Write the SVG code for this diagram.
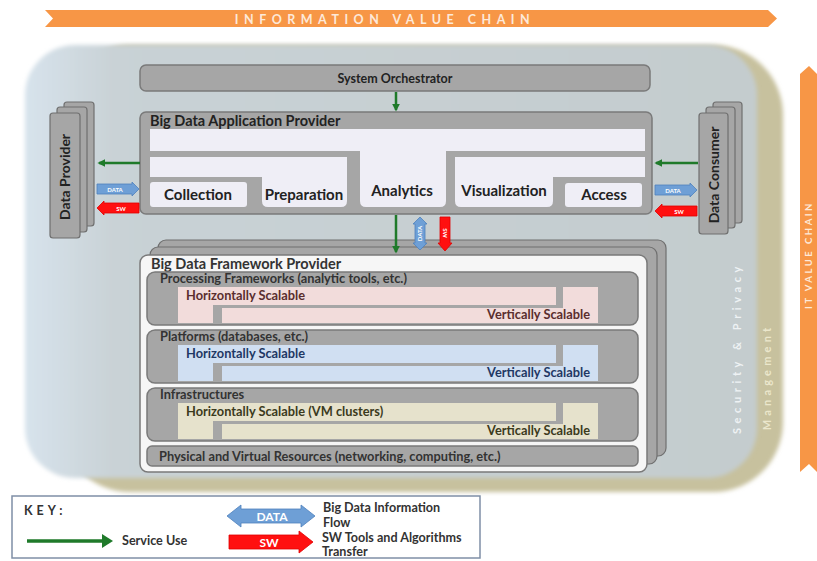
<svg xmlns="http://www.w3.org/2000/svg" width="817" height="561" viewBox="0 0 817 561">
<defs>
<style>
text{font-family:Lato,"Open Sans","Liberation Sans",sans-serif;}
.b{font-weight:bold;fill:#222;}
.gbox{fill:#a6a6a6;stroke:#7a7a7a;stroke-width:1.5;}
.lav{fill:#efeef6;}
.stk{fill:#a6a6a6;stroke:#6f6f6f;stroke-width:1.2;}
.g{stroke:#1f7a2a;stroke-width:2.5;fill:none;}
.data{fill:#6e9fd6;stroke:#4f81bd;stroke-width:0.8;}
.sw{fill:#ff1010;stroke:#e00000;stroke-width:0.8;}
.at{fill:#fff;font-weight:bold;font-size:6px;}
.small{font-size:12.8px;font-weight:bold;}
.app{font-size:15px;}
.key{font-size:12.6px;font-weight:bold;fill:#333;}
.banner{fill:#f79646;}
.btxt{fill:#fde9d9;font-weight:bold;}
</style>
<marker id="ah" viewBox="0 0 10 10" refX="8" refY="5" markerWidth="3.2" markerHeight="3.2" orient="auto">
<path d="M0,0 L10,5 L0,10 Z" fill="#1f7a2a"/>
</marker>
<linearGradient id="panel" x1="0" y1="0" x2="1" y2="0">
<stop offset="0" stop-color="#d7e3ec"/>
<stop offset="0.12" stop-color="#c9d2d6"/>
<stop offset="1" stop-color="#c4ccce"/>
</linearGradient>
<filter id="soft" x="-5%" y="-5%" width="110%" height="110%">
<feGaussianBlur stdDeviation="2"/>
</filter>
</defs>

<rect width="817" height="561" fill="#ffffff"/>

<!-- Information value chain banner -->
<g id="info-value-chain">
<path class="banner" d="M45,10 H768 L777,18.5 L768,27 H45 L53,18.5 Z"/>
<text class="btxt" x="385" y="23.5" text-anchor="middle" font-size="12.5" letter-spacing="5.5">INFORMATION VALUE CHAIN</text>
</g>

<!-- IT value chain banner -->
<g id="it-value-chain">
<path class="banner" d="M800,74 L809,66 L817,74 V472 L809,464 L800,472 Z"/>
<text class="btxt" transform="translate(812,255) rotate(-90)" text-anchor="middle" font-size="9.5" letter-spacing="2.5">IT VALUE CHAIN</text>
</g>

<!-- Outer panels -->
<g id="management">
<rect x="60" y="45" width="723" height="447" rx="70" fill="#c7c19e" filter="url(#soft)"/>
<text transform="translate(771,377) rotate(-90)" text-anchor="middle" font-size="11" font-weight="bold" letter-spacing="4.2" fill="#ebe7cc">Management</text>
</g>
<g id="security-privacy">
<rect x="25" y="45" width="732" height="433" rx="50" fill="url(#panel)" filter="url(#soft)"/>
<text transform="translate(741,348) rotate(-90)" text-anchor="middle" font-size="11" font-weight="bold" letter-spacing="4.6" fill="#eef2f4">Security &amp; Privacy</text>
</g>

<!-- System Orchestrator -->
<g id="system-orchestrator">
<rect class="gbox" x="140" y="65" width="510" height="26" rx="6"/>
<text class="b" x="395" y="82.5" text-anchor="middle" font-size="12.5">System Orchestrator</text>
</g>

<!-- Data Provider -->
<g id="data-provider">
<rect class="stk" x="64" y="102" width="30" height="124" rx="3"/>
<rect class="stk" x="57" y="107" width="30" height="125" rx="3"/>
<rect class="stk" x="50" y="113" width="30" height="125" rx="3"/>
<text class="b" transform="translate(70,177) rotate(-90)" text-anchor="middle" font-size="14">Data Provider</text>
</g>

<!-- Data Consumer -->
<g id="data-consumer">
<rect class="stk" x="713" y="102" width="29" height="121" rx="3"/>
<rect class="stk" x="706" y="107" width="29" height="121" rx="3"/>
<rect class="stk" x="699" y="113" width="29" height="121" rx="3"/>
<text class="b" transform="translate(718.5,175) rotate(-90)" text-anchor="middle" font-size="14">Data Consumer</text>
</g>

<!-- Big Data Application Provider -->
<g id="application-provider">
<rect class="gbox" x="140" y="112" width="512" height="102" rx="6"/>
<text class="b" x="150" y="125.5" font-size="14.5">Big Data Application Provider</text>
<path class="lav" d="M150,129 H645 V151 H446 V201 Q446,207 440,207 H366 Q360,207 360,201 V151 H150 Z"/>
<path class="lav" d="M150,157 H347 V201 Q347,207 341,207 H268 Q262,207 262,201 V177 H150 Z"/>
<path class="lav" d="M455,157 H645 V177 H553 V201 Q553,207 547,207 H461 Q455,207 455,201 Z"/>
<rect class="lav" x="150" y="182" width="97" height="25" rx="3"/>
<rect class="lav" x="565" y="183" width="77" height="24" rx="3"/>
<text class="b app" x="198" y="200" text-anchor="middle">Collection</text>
<text class="b app" x="304" y="200" text-anchor="middle">Preparation</text>
<text class="b app" x="402" y="196" text-anchor="middle">Analytics</text>
<text class="b app" x="504" y="196" text-anchor="middle">Visualization</text>
<text class="b app" x="604" y="200" text-anchor="middle">Access</text>
</g>

<!-- Big Data Framework Provider -->
<g id="framework-provider">
<rect class="stk" x="158" y="240" width="508" height="216" rx="8"/>
<rect class="stk" x="150" y="247" width="507" height="217" rx="8"/>
<rect x="140" y="255" width="507" height="217" rx="8" fill="#f6f6f6" stroke="#7a7a7a" stroke-width="1.5"/>
<text x="151" y="268.5" font-size="14.5" font-weight="bold" fill="#333">Big Data Framework Provider</text>
</g>

<g id="processing-frameworks">
<rect class="gbox" x="147" y="272" width="491" height="53" rx="8"/>
<path d="M178,287 H556 V305 H213 V323 H178 Z" fill="#f2dcdb"/>
<path d="M563,287 H598 V323 H222 V308 H563 Z" fill="#f2dcdb"/>
<text class="small" x="160" y="283" fill="#333">Processing Frameworks (analytic tools, etc.)</text>
<text class="small" x="186" y="299.5" fill="#5a2e2e">Horizontally Scalable</text>
<text class="small" x="590" y="318.5" text-anchor="end" fill="#5a2e2e">Vertically Scalable</text>
</g>

<g id="platforms">
<rect class="gbox" x="147" y="330" width="491" height="53" rx="8"/>
<path d="M178,345 H556 V363 H213 V381 H178 Z" fill="#d0dff2"/>
<path d="M563,345 H598 V381 H222 V366 H563 Z" fill="#d0dff2"/>
<text class="small" x="160" y="341" fill="#333">Platforms (databases, etc.)</text>
<text class="small" x="186" y="357.5" fill="#1f3864">Horizontally Scalable</text>
<text class="small" x="590" y="376.5" text-anchor="end" fill="#1f3864">Vertically Scalable</text>
</g>

<g id="infrastructures">
<rect class="gbox" x="147" y="388" width="491" height="53" rx="8"/>
<path d="M178,403 H556 V421 H213 V439 H178 Z" fill="#e6e2cc"/>
<path d="M563,403 H598 V439 H222 V424 H563 Z" fill="#e6e2cc"/>
<text class="small" x="160" y="399" fill="#333">Infrastructures</text>
<text class="small" x="186" y="415.5" fill="#3b3a1c">Horizontally Scalable (VM clusters)</text>
<text class="small" x="590" y="434.5" text-anchor="end" fill="#3b3a1c">Vertically Scalable</text>
</g>

<g id="physical-resources">
<rect class="gbox" x="147" y="446" width="491" height="20" rx="5"/>
<text class="small" x="159" y="460.5" fill="#333">Physical and Virtual Resources (networking, computing, etc.)</text>
</g>

<!-- Connectors -->
<g id="connectors">
<line class="g" x1="396" y1="92" x2="396" y2="110" marker-end="url(#ah)"/>
<line class="g" x1="396" y1="215" x2="396" y2="252" marker-end="url(#ah)"/>
<line class="g" x1="140" y1="163" x2="99" y2="163" marker-end="url(#ah)"/>
<line class="g" x1="698" y1="163" x2="656" y2="163" marker-end="url(#ah)"/>

<path class="data" d="M97,184 H132 V182 L139,189 L132,196 V194 H97 Z"/>
<text class="at" x="115" y="191.5" text-anchor="middle">DATA</text>
<path class="sw" d="M139,203 H104 V201 L97,208 L104,215 V213 H139 Z"/>
<text class="at" x="121" y="210.5" text-anchor="middle">SW</text>

<path class="data" d="M655,185 H690 V183 L697,190 L690,197 V195 H655 Z"/>
<text class="at" x="673" y="192.5" text-anchor="middle">DATA</text>
<path class="sw" d="M697,206 H662 V204 L655,211 L662,218 V216 H697 Z"/>
<text class="at" x="679" y="213.5" text-anchor="middle">SW</text>

<path class="data" d="M420,217 L427,224 H425 V243 H427 L420,250 L413,243 H415 V224 H413 Z"/>
<text class="at" transform="translate(422,233.5) rotate(-90)" text-anchor="middle">DATA</text>
<path class="sw" d="M440,217 H450 V243 H452 L445,251 L438,243 H440 Z"/>
<text class="at" transform="translate(443,233) rotate(90)" text-anchor="middle">SW</text>
</g>

<!-- Key -->
<g id="key">
<rect x="12" y="496" width="468" height="62" fill="#ffffff" stroke="#7f8fa6" stroke-width="1.5"/>
<text x="24" y="515" font-size="12.5" font-weight="bold" letter-spacing="4" fill="#333">KEY:</text>
<line x1="27" y1="541" x2="104" y2="541" stroke="#1f7a2a" stroke-width="3.5"/>
<path d="M102,534 L113,541 L102,548 Z" fill="#1f7a2a"/>
<text class="key" x="122" y="545">Service Use</text>
<path d="M227,516 L241,505 V509 H301 V505 L315,516 L301,527 V523 H241 V527 Z" fill="#6e9fd6" stroke="#4f81bd" stroke-width="0.8"/>
<text x="272" y="520.5" font-size="12" font-weight="bold" fill="#ffffff" text-anchor="middle">DATA</text>
<path d="M229,535 H299 V531 L313,542 L299,553 V549 H229 Z" fill="#ff1010" stroke="#e00000" stroke-width="0.8"/>
<text x="269" y="546.5" font-size="12" font-weight="bold" fill="#ffffff" text-anchor="middle">SW</text>
<text class="key" x="323" y="512">Big Data Information</text>
<text class="key" x="323" y="526.5">Flow</text>
<text class="key" x="322" y="541.5">SW Tools and Algorithms</text>
<text class="key" x="322" y="556">Transfer</text>
</g>
</svg>
